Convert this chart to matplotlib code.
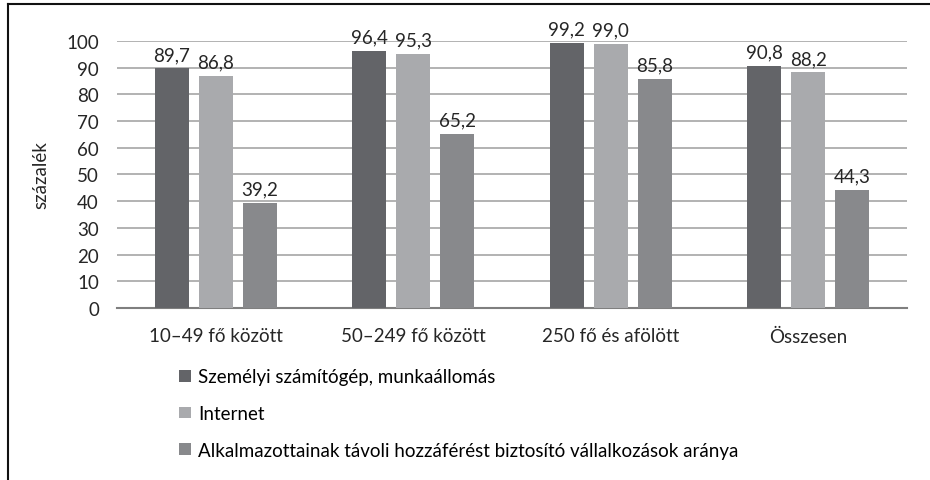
import numpy as np
import matplotlib.pyplot as plt
from matplotlib.lines import Line2D

plt.rcParams['font.family'] = ['Lato', 'DejaVu Sans']

# Data
categories = ['10–49 fő között', '50–249 fő között', '250 fő és afölött', 'Összesen']
series_names = ['Személyi számítógép, munkaállomás',
                'Internet',
                'Alkalmazottainak távoli hozzáférést biztosító vállalkozások aránya']
pc_values = [89.7, 96.4, 99.2, 90.8]
internet_values = [86.8, 95.3, 99.0, 88.2]
remote_values = [39.2, 65.2, 85.8, 44.3]
colors = ['#636468', '#a9aaad', '#88898c']

fs = 13.5
txt = '#262626'

fig = plt.figure(figsize=(9.3, 4.81), dpi=100)
ax = fig.add_axes([0.1258, 0.3576, 0.8495, 0.5551])

x = np.arange(len(categories))
width = 0.172
step = 0.223
all_series = [pc_values, internet_values, remote_values]
for i, (vals, name, col) in enumerate(zip(all_series, series_names, colors)):
    bars = ax.bar(x + (i - 1) * step, vals, width, color=col, label=name, zorder=3)
    ax.bar_label(bars, labels=[f'{v:.1f}'.replace('.', ',') for v in vals],
                 padding=4, fontsize=fs, color=txt)

ax.set_xlim(-0.5, len(categories) - 0.5)
ax.set_ylim(0, 100)
ax.set_yticks(range(0, 101, 10))
ax.set_xticks(x)
ax.set_xticklabels(categories)
ax.tick_params(axis='both', length=0, labelsize=fs, colors=txt)
ax.tick_params(axis='x', pad=14)
ax.tick_params(axis='y', pad=13)
ax.yaxis.grid(True, color='#a6a6a6', linewidth=1.2, zorder=0)
for s in ['top', 'right', 'left']:
    ax.spines[s].set_visible(False)
ax.spines['bottom'].set_color('#7f7f7f')
ax.spines['bottom'].set_linewidth(1.5)
ax.set_ylabel('százalék', fontsize=fs, color=txt, labelpad=12)

fig.legend(loc='upper left', bbox_to_anchor=(0.193, 0.232), frameon=False,
           fontsize=fs, handlelength=0.6, handleheight=0.6, handletextpad=0.4,
           labelspacing=1.05, borderaxespad=0, borderpad=0)

# outer frame (top and left)
fig.add_artist(Line2D([0.009, 0.009], [0.0, 0.99], transform=fig.transFigure,
                      color='#111111', linewidth=1.5))
fig.add_artist(Line2D([0.009, 1.0], [0.99, 0.99], transform=fig.transFigure,
                      color='#111111', linewidth=1.5))

fig.savefig('out.png', dpi=100)
